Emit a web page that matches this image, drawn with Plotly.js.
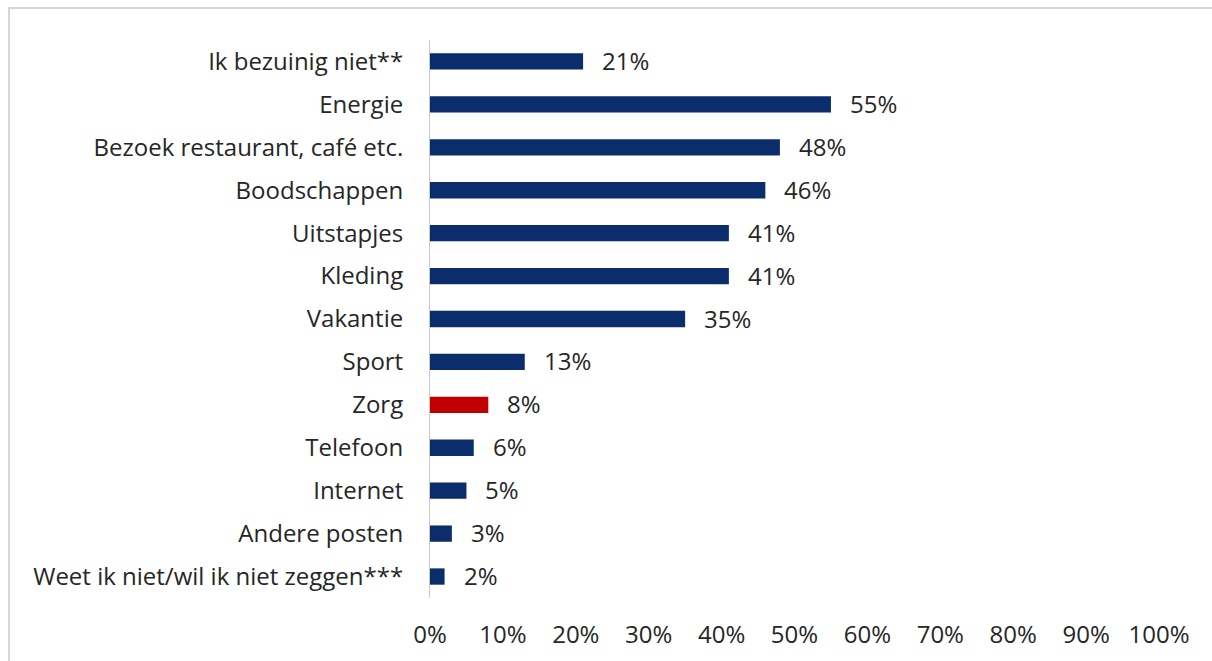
<!DOCTYPE html>
<html>
<head>
<meta charset="utf-8">
<script src="https://cdn.plot.ly/plotly-3.0.1.min.js"></script>
<style>
  html, body { margin: 0; padding: 0; background: #fff; }
  #frame { position: absolute; left: 8px; top: 7px; width: 1204px; height: 654px;
           border-left: 2px solid #d6d6d6; border-top: 2px solid #d6d6d6; }
  #chart { position: absolute; left: 0; top: 0; width: 1212px; height: 661px; }
</style>
</head>
<body>
<div id="frame"></div>
<div id="chart"></div>
<script>
const categories = [
  "Ik bezuinig niet**",
  "Energie",
  "Bezoek restaurant, café etc.",
  "Boodschappen",
  "Uitstapjes",
  "Kleding",
  "Vakantie",
  "Sport",
  "Zorg",
  "Telefoon",
  "Internet",
  "Andere posten",
  "Weet ik niet/wil ik niet zeggen***"
];
const values = [21, 55, 48, 46, 41, 41, 35, 13, 8, 6, 5, 3, 2];
const highlight = "Zorg";
const xTickValues = [0, 10, 20, 30, 40, 50, 60, 70, 80, 90, 100];
const xTickLabels = ["0%", "10%", "20%", "30%", "40%", "50%", "60%", "70%", "80%", "90%", "100%"];

const navy = "#0c2d6b";
const red = "#c00000";
const textColor = "#262626";
const fontFamily = "'Open Sans', 'Noto Sans', sans-serif";
const fontSize = 24;

const trace = {
  type: "bar",
  orientation: "h",
  y: categories,
  x: values,
  marker: { color: categories.map(c => c === highlight ? red : navy) },
  hoverinfo: "skip"
};

const annotations = categories.map((c, i) => ({
  x: values[i], y: c, xref: "x", yref: "y",
  text: values[i] + "%", showarrow: false,
  xanchor: "left", yanchor: "middle", xshift: 17, yshift: 1,
  font: { family: fontFamily, size: fontSize, color: textColor }
}));

const layout = {
  width: 1212, height: 661,
  paper_bgcolor: "rgba(0,0,0,0)", plot_bgcolor: "rgba(0,0,0,0)",
  margin: { l: 430, r: 53, t: 40, b: 63 },
  bargap: 0.62,
  showlegend: false,
  font: { family: fontFamily, size: fontSize, color: textColor },
  xaxis: {
    range: [0, 100], tickvals: xTickValues, ticktext: xTickLabels,
    showgrid: false, zeroline: false, showline: false,
    ticks: "outside", ticklen: 15, tickcolor: "rgba(0,0,0,0)",
    tickfont: { family: fontFamily, size: fontSize, color: textColor },
    fixedrange: true
  },
  yaxis: {
    type: "category", categoryorder: "array", categoryarray: categories,
    autorange: "reversed",
    showgrid: false, zeroline: false,
    showline: true, linecolor: "#c8c8c8", linewidth: 1,
    ticks: "", ticklabelstandoff: 21,
    tickfont: { family: fontFamily, size: fontSize, color: textColor },
    fixedrange: true
  },
  annotations: annotations
};

Plotly.newPlot("chart", [trace], layout, { displayModeBar: false, staticPlot: true });
</script>
</body>
</html>
